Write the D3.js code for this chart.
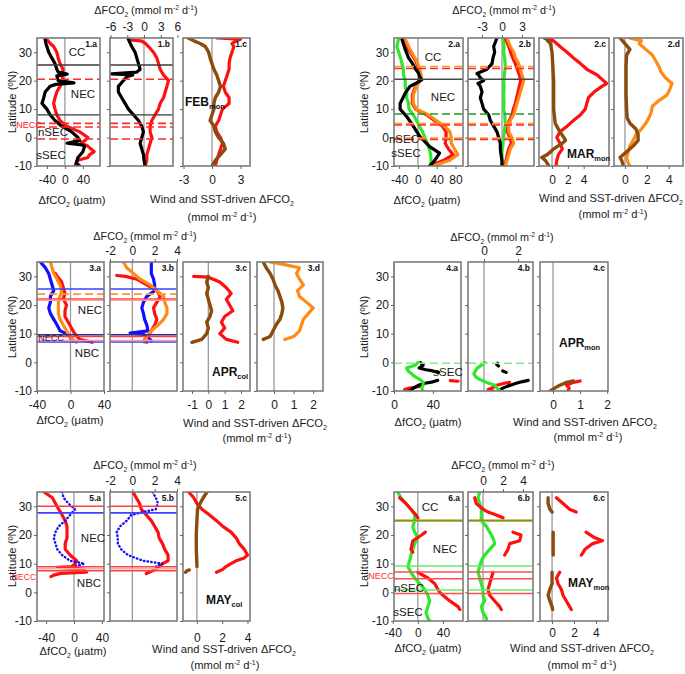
<!DOCTYPE html>
<html><head><meta charset="utf-8">
<script src="https://cdn.jsdelivr.net/npm/d3@7"></script>
<style>body{margin:0;background:#fff}svg{font-family:"Liberation Sans",Arial,sans-serif;display:block}</style>
</head><body><svg id="c" width="685" height="674"></svg>
<script>
// ---------------- DATA (latitude, value) ----------------
const latTicks=[30,20,10,0,-10];
// Group 1 (FEB mon)
const p1a_black=[[34.5,-44],[33,-42],[32,-40],[30,-36],[28,-29],[26,-22],[24,-18],[23,-15],[22.3,5],[21.7,-18],[20,-15],[19.2,20],[18.7,-20],[18,-33],[16,-44],[14,-47],[12,-51],[10,-40],[8,-33],[6,-22],[4,-7],[2,15],[0,29],[-1,33],[-2,5],[-2.6,38],[-3,44],[-5,40],[-7,29],[-9,25],[-10,33]];
const p1a_red=[[34.5,-40],[33,-32],[32,-25],[30,-18],[28,-15],[26,-11],[24,-4],[22,-7],[20,-4],[18,-11],[16,-18],[14,-22],[12,-25],[10,-22],[8,-18],[6,-11],[4,4],[2,33],[0,51],[-1,45],[-2,36],[-3,51],[-5,65],[-6,55],[-7,51],[-8,29],[-10,22]];
const p1b_black=[[34.5,-2.8],[32,-2.2],[30,-1.6],[28,-1.3],[26,-1.0],[24,-0.7],[23,-1.3],[22.4,-5.8],[22,-2.0],[21.5,-3.0],[20,-3.7],[18,-4.6],[16,-4.6],[14,-4.0],[12,-3.4],[10,-2.8],[8,-1.9],[6,-1.0],[4,-0.4],[2,-0.1],[0,-0.4],[-2,-0.7],[-4,-0.4],[-6,-0.1],[-8,0],[-10,0.2]];
const p1b_red=[[34.3,-2.6],[34,-0.5],[33,0.3],[32,0.8],[30,1.7],[28,2.3],[26,2.6],[24,2.9],[22,3.5],[20,4.4],[18,4.1],[16,3.8],[14,3.5],[12,2.9],[10,2.6],[8,2.0],[6,1.4],[4,1.1],[2,1.1],[0,1.4],[-2,1.1],[-4,0.8],[-6,0.5],[-8,0.5],[-10,0.2]];
const p1c_brown=[[35,-2.5],[34,-1.9],[33,-1.2],[32,-0.7],[30,-0.35],[28,-0.2],[26,0],[24,0.2],[22,0.5],[20,0.7],[18,0.9],[16,0.7],[14,0.35],[12,0.2],[10,0.2],[8,0],[6,-0.2],[4,0.2],[2,0.35],[0,0.7],[-2,1.2],[-4,1.4],[-6,0.9],[-8,0.35],[-10,0]];
const p1c_red=[[35,0.5],[34.6,3.0],[34,2.5],[33,2.1],[32,2.3],[30,2.1],[28,1.9],[26,1.8],[24,1.8],[22,1.6],[20,1.4],[18,1.2],[16,1.4],[14,1.8],[12,1.8],[10,1.1],[8,0.9],[6,0.7],[4,0.35],[2,0.5],[0,0.9],[-2,1.1],[-4,0.9],[-6,0.7],[-8,0.5],[-10,0.35]];
// Group 2 (MAR mon)
const p2a_green=[[35,-41],[32,-45],[30,-41],[28,-37],[26,-34],[24,-31],[22,-31],[20,-27],[18,-27],[16,-24],[14,-24],[12,-20],[10,-19],[8,-10],[6,-3],[4,3],[2,10],[0,15],[-2,20],[-4,24],[-6,27],[-8,28],[-10,26]];
const p2a_red=[[34.5,-30],[31,-20],[27,-5],[24,2],[21,5],[18,-5],[15,-12],[12,-12],[10,-5],[8,18],[6,35],[4,52],[2,60],[0,60],[-2,58],[-4,65],[-6,75],[-8,55],[-10,25]];
const p2a_orange=[[34.5,-27],[31,-17],[27,-3],[24,4],[21,8],[18,-3],[15,-10],[12,-10],[10,-3],[8,22],[6,39],[4,57],[2,68],[0,71],[-2,71],[-4,78],[-6,85],[-8,68],[-10,32]];
const p2a_black=[[34.5,-34],[31,-27],[28,-20],[26.4,-13],[24,-5],[23,0],[21,5],[20.3,8],[19,-5],[18,-17],[15.6,-27],[12,-38],[10,-38],[7.4,-24],[4,-10],[0.4,4],[-3.2,25],[-5.5,46],[-8,36],[-10,25]];
const p2b_green=[[35,0.25],[32,0.3],[30,0.25],[28,0.4],[25,0.5],[22,0.35],[20,0.25],[18,0.3],[15,0.25],[12,0.3],[10,0.25],[8,0.4],[5,0.5],[2,0.35],[0,0.25],[-3,0.1],[-5,0],[-8,0],[-10,0]];
const p2b_red=[[35,0.5],[32,1.0],[30,1.3],[28,1.6],[26,2.0],[24,2.3],[22,2.6],[20,2.8],[18,2.6],[16,2.4],[14,2.2],[12,2.0],[10,1.7],[8,1.5],[6,1.1],[4,0.9],[2,0.8],[0,1.2],[-2,1.4],[-4,1.0],[-6,0.8],[-8,0.6],[-10,0.4]];
const p2b_orange=[[35,0.75],[32,1.25],[30,1.75],[28,2],[26,2.5],[24,2.75],[22,3],[20,3.25],[18,3],[16,2.75],[14,2.5],[12,2.25],[10,2],[8,1.75],[6,1.25],[4,1],[2,1],[0,1.5],[-2,1.75],[-4,1.25],[-6,1],[-8,0.75],[-10,0.5]];
const p2b_black=[[35,-0.75],[32,-1.25],[30,-1.1],[28,-1.35],[26,-1.5],[24,-2.25],[22.5,-3.75],[22,-3.5],[21,-3.25],[20,-2.75],[19,-3.6],[18,-3.25],[16,-3.0],[14,-3.25],[12,-3.0],[10,-2.75],[8,-2.0],[6,-1.75],[4,-1.25],[2,-0.75],[0,-0.5],[-2,-0.25],[-4,-0.25],[-6,-0.15],[-8,0],[-10,0]];
const p2c_brown=[[35,-0.85],[33,-0.2],[30,0],[25,0.1],[20,0.2],[15,0.2],[10,0.2],[5,0.4],[2,1.0],[0,1.5],[-1,1.7],[-2,1.3],[-4,0.2],[-6,-0.6],[-7,-1.3],[-8,-0.85],[-10,-0.4]];
const p2c_red=[[35,-1],[34,0.2],[32,1],[30,1.9],[28,2.7],[26,3.6],[24,4.4],[22,5.7],[20,6.5],[19,6.9],[18,6.3],[16,5.3],[14,4.6],[12,4.4],[10,4.2],[8,3.6],[6,2.7],[4,1.9],[2,1],[0,0.6],[-2,1],[-4,1.3],[-6,0.8],[-8,0.6],[-10,0.5]];
const p2d_brown=[[35,-0.45],[33,0],[31,0.45],[29,0.15],[25,0.1],[20,0.1],[15,0.1],[10,0.15],[7,0.2],[5,0.45],[3,1.0],[1,1.2],[-1,1.2],[-3,0.75],[-5,0.15],[-7,-0.45],[-8,-0.3],[-10,-0.15]];
const p2d_orange=[[35,0.45],[34,1.5],[33,1.3],[31,1.9],[29,2.5],[27,2.8],[25,3.1],[23,3.3],[21,3.7],[19,4.3],[17,4.1],[15,3.85],[13,3.1],[11,2.5],[9,2.4],[7,2.2],[5,1.9],[3,1.5],[1,1.0],[-1,0.75],[-3,0.45],[-5,0.3],[-7,0.15],[-9,0.3],[-10,0.45]];
// Group 3 (APR col)
const p3a_blue=[[35,-36],[33,-30],[31,-26],[29,-24],[27,-22],[25,-20],[23,-24],[21,-24],[19,-26],[17,-24],[15,-20],[13,-16],[11,-12.5],[10,-5],[9,-1],[8,1],[7.5,3]];
const p3a_red=[[31,-18],[30,-16],[28,-10.5],[26,-8.6],[24,-6.6],[22,-8.6],[20,-4.7],[18,-6.6],[16,-6.6],[14,-2.7],[12,1.2],[10,5],[8,11],[7,26]];
const p3a_orange=[[35,-24],[33,-22],[31,-20],[29,-16],[27,-12.5],[25,-10.5],[23,-12.5],[21,-14.5],[19,-14.5],[17,-14.5],[15,-12.5],[13,-8.6],[11,-4.7],[9,-1],[8,3],[7,7]];
const p3b_blue=[[35,1.7],[33,1.7],[31,1.7],[29,1.9],[27,2.0],[25,2.0],[23,1.3],[21,1.0],[19,0.85],[17,1.0],[15,1.1],[13,1.3],[11,1.4],[10.2,-0.2],[9.8,1.0],[9,1.3],[8,1.6],[7.5,1.7]];
const p3b_red=[[30.3,-1.4],[30,-0.6],[29,0.4],[27,1.3],[25,2.2],[23,2.5],[21,2.2],[19,1.9],[17,2.0],[15,2.2],[13,2.0],[11,1.7],[9,1.4],[8,1.1],[7,1.3]];
const p3b_orange=[[35,-0.8],[33,-0.5],[31,0.1],[29,0.7],[27,1.6],[25,2.2],[23,2.8],[21,2.9],[19,3.1],[17,3.1],[15,2.8],[13,2.3],[11,1.7],[9,1.3],[7,1.1]];
const p3c_brown=[[30,0],[28,-0.1],[26,0],[24,-0.1],[22,0],[20,0.1],[18,0.2],[16,0.1],[14,-0.1],[12,0],[10,-0.1],[8,-0.4],[7,-1.0]];
const p3c_red=[[30,-0.9],[29.7,0],[29,0.3],[28,0.7],[26,1.1],[24,1.4],[22,1.1],[20,1.3],[18,1.5],[16,1.0],[14,0.8],[12,1.0],[10,0.7],[8,1.1],[7,1.8]];
const p3d_brown=[[35,-0.55],[33,-0.4],[31,-0.2],[29,-0.05],[27,0.05],[25,0.2],[23,0.3],[21,0.4],[19,0.45],[17,0.4],[15,0.3],[13,0.1],[11,-0.05],[9,-0.2],[8,-0.55]];
const p3d_orange=[[35,-0.2],[34,0.6],[33,1.3],[31,1.15],[29,1.3],[27,1.5],[25,1.2],[23,1.3],[21,1.65],[19,2.0],[17,1.75],[15,1.5],[13,1.4],[11,1.3],[9,1.0],[8,0.55]];
// Group 4 (APR mon)
const p4a_green=[[0,25],[-1,21.6],[-2,13],[-3,14.6],[-4,18],[-5,21.6],[-6,27],[-7,30],[-8,30],[-9,28.5],[-10,30]];
const p4a_black=[[0,27],[-1,30],[-2,26],[-2.6,33],[-3,40],[-3.5,46],[-4,null],[-6.3,45],[-6.8,40],[-7.3,32],[-8,25],[-9,20],[-10,16]];
const p4a_red=[[-6.4,58],[-6.6,66],[-7,null],[-8.3,28],[-8.7,22],[-9,16],[-9.5,11],[-10,14]];
const p4b_green=[[0,0.05],[-1,-0.15],[-2,-0.4],[-4,-0.6],[-5,-0.5],[-6,-0.25],[-7,0.15],[-8,0.65],[-9,0.75],[-10,0.95]];
const p4b_black=[[-0.3,0.8],[-0.8,0.75],[-1.3,0.85],[-1.8,null],[-3,1.1],[-3.5,1.3],[-4,null],[-6.3,2.6],[-6.8,2.2],[-7.5,1.8],[-8.3,1.4],[-9,1.1],[-10,0.85]];
const p4b_red=[[-7,1.5],[-7.3,1.2],[-8,0.75],[-9,0.45],[-9.5,0.25],[-10,0.55]];
const p4c_brown=[[-6.5,0.75],[-7,0.5],[-8,0.25],[-9,0.06],[-10,-0.1]];
const p4c_red=[[-6.5,1.0],[-7,0.75],[-8,0.5],[-9,0.6],[-10,0.55]];
// Group 5 (MAY col)
const p5a_blue=[[35,-17],[33,-15],[31,-8],[29,1.4],[27,-5.6],[25,-12.6],[23,-22],[21,-26.5],[19,-29],[17,-26.5],[15,-24],[13,-17],[11,-5.6],[10,15],[9,-1]];
const p5a_red=[[35,-43],[33,-31],[31,-26.5],[29,-22],[27,-17],[25,-12.6],[23,-10],[21,-10],[19,-10],[17,-12.6],[15,-12.6],[13,-5.6],[11,3.7],[10,1.4],[9,-3],[8.7,-24],[8.3,5],[8,13],[7,17.7],[6.6,-19],[6,-29],[5.5,-33]];
const p5b_blue=[[35,1.8],[33,2.1],[31,2.3],[29,2.1],[28,0.95],[27,-0.1],[25,-0.5],[23,-1.1],[21,-1.4],[19,-1.3],[17,-1.3],[15,-1.0],[13,-0.4],[11,0.95],[10,2.7],[9,2.1]];
const p5b_red=[[35,0.05],[33,0.35],[31,0.65],[29,0.8],[27,1.25],[25,1.7],[23,2.0],[21,2.3],[19,2.4],[17,2.7],[15,2.9],[13,3.2],[11,3.2],[10,2.7],[9,2.4],[8,2.1],[7,1.5],[6.5,1.25]];
const p5c_brown=[[35,0.8],[33,0.5],[31,0.25],[29,0.05],[25,0],[20,-0.05],[15,-0.05],[10,0],[9,0],[8.5,null],[7.8,-0.6],[7.5,-0.8],[7,-0.9]];
const p5c_red=[[35,-0.65],[33,-0.25],[31,0],[29,0.4],[27,1.0],[25,1.55],[23,2.05],[21,2.7],[19,3.1],[17,3.35],[15,3.75],[13,4.0],[12,3.75],[11,3.1],[10,2.7],[9,2.3],[8,2.05],[7,1.55]];
// Group 6 (MAY mon)
const p6a_green=[[35,-32],[33,-27],[31,-19],[29,-11],[27,-5],[25,-5],[23,-8],[21,-5],[19,0],[17,-5],[15,-8],[13,-11],[11,-13],[9,-16],[7,-11],[5,-5],[3,3],[1,11],[-1,16],[-3,19],[-5,16],[-7,13],[-9,16],[-10,19]];
const p6a_red=[[33,-29],[31,-19],[29,-11],[27,-3],[26,0],[25.5,null],[21,12],[20,6],[18,-8],[15,-11],[14,-8],[13.5,null],[7,0],[5,16],[3,27],[1,32],[0,35],[-1,40],[-3,51],[-5,64],[-6,67]];
const p6b_green=[[35,-0.33],[33,-0.5],[31,-0.33],[29,-0.17],[27,-0.17],[25,-0.17],[23,0.33],[21,0.67],[19,1.0],[17,1.17],[15,0.67],[13,0.17],[11,-0.17],[9,-0.33],[7,-0.5],[5,-0.33],[3,-0.17],[1,0],[-1,0],[-3,0.17],[-5,-0.17],[-7,0],[-9,0.33],[-10,0.33]];
const p6b_red=[[33,-0.83],[31,-0.67],[29,0],[28,0.5],[27,1.33],[26,2.0],[25.5,null],[21,3.0],[20,3.8],[18,3.67],[17,2.67],[15,2.5],[13,2.17],[12.5,null],[7,1.0],[5,0.83],[3,0.67],[1,0.5],[-1,0.67],[-3,1.17],[-5,1.67],[-6,1.83]];
const p6c_brown=[[33,-0.36],[31,-0.36],[29,-0.2],[28,0],[27.5,null],[21,0.1],[19,0.1],[17,0.1],[15,0.1],[13,0.1],[12.5,null],[7,0],[5,0],[3,0],[1,-0.2],[-1,-0.36],[-3,-0.2],[-5,0],[-6,0.05]];
const p6c_red=[[33,0.4],[31,1.0],[29,1.6],[28,2.2],[27.5,null],[21,3.1],[19,3.9],[18,4.6],[17,3.7],[15,3.0],[13,2.67],[12.5,null],[7,0.7],[5,0.4],[3,0.55],[1,0.85],[-1,1.0],[-3,1.3],[-5,1.6],[-6,1.75]];

// tick label arrays
const t1a=[-40,0,40], t1b=[-6,-3,0,3,6], t1c=[-3,0,3];
const t2a=[-40,0,40,80], t2b=[-3,0,3], t2c=[0,2,4], t2d=[0,2,4];
const t3a=[-40,0,40], t3b=[-2,0,2,4], t3c=[-1,0,1,2], t3d=[0,1,2];
const t4a=[0,40], t4b=[0,2], t4c=[0,1,2];
const t5a=[-40,0,40], t5b=[-2,0,2,4], t5c=[0,2,4];
const t6a=[-40,0,40], t6b=[0,2,4], t6c=[0,2,4];

// current boundary latitudes
const g1_gray=[25.5,8.0], g1_redDash=[20.5,5.0,3.7,-0.5];
const g2_orangeDash=[25.0,4.9,-0.2], g2_redDash=[24.3,4.4,-0.7], g2_gray=[20.5], g2_greenDash=[8.3];
const g3_blue=[25.6,7.1], g3_orangeDash=[23.8], g3_red=[22.1,9.0], g3_pink=[21.7,7.6], g3_navy=[9.6];
const g4_greenDash=[-0.3];
const g5_red=[30.0,8.9,7.5], g5_pink=[8.2], g5_blue=[27.7];
const g6_olive=[25.1], g6_green=[24.8,9.2,0.8], g6_red=[7.1,4.7,-0.4];

// ---------------- DRAWING ----------------
const COL={red:'#ff1010',black:'#000000',orange:'#ff8a14',green:'#2ee82e',blue:'#1010ff',brown:'#8a4b0c'};
const svg=d3.select('#c');
svg.append('rect').attr('width',685).attr('height',674).attr('fill','#fff');
const rowsY={1:[38,166],2:[262,391],3:[492,621]};
const FONT=12, TXT=11.2, TITLE=10.8;

function rich(g,x,y,parts,size,anchor,weight,fill){
  const t=g.append('text').attr('x',x).attr('y',y).attr('text-anchor',anchor||'middle')
    .attr('font-size',size).attr('font-weight',weight||'normal').attr('fill',fill||'#1a1a1a');
  let cur=0;
  parts.forEach(p=>{
    const s=typeof p==='string'?p:p[0], k=typeof p==='string'?0:p[1];
    const target=k===1?-0.4*size:(k===-1?0.3*size:0);
    const ts=t.append('tspan').text(s).attr('font-size',k===0?size:size*0.62);
    if(target!==cur){ts.attr('dy',target-cur);cur=target;}
  });
  return t;
}
const titleParts=['\u0394FCO',['2',-1],' (mmol m',['-2',1],' d',['-1',1],')'];
const fco2Parts=['\u0394fCO',['2',-1],' (\u03bcatm)'];
const windParts=['Wind and SST-driven \u0394FCO',['2',-1]];
const unitParts=['(mmol m',['-2',1],' d',['-1',1],')'];

const groups=[
 {row:1, title:[146,14], fco2:[72,204], wind:[222,203], unit:[222,221], yLab:[12,102], tickPad:6,
  panels:[
   {n:'1.a',x:[37,100],d:[-62,78],bot:t1a,s:[['red',p1a_red],['black',p1a_black]]},
   {n:'1.b',x:[110,173],d:[-6.1,5.2],top:t1b,s:[['red',p1b_red],['black',p1b_black]]},
   {n:'1.c',x:[183,250],d:[-3.05,4.0],bot:t1c,s:[['red',p1c_red],['brown',p1c_brown]]}],
  hl:[[g1_gray,'#3a3a3a',null,1.3],[g1_redDash,'#ff2a2a','8,4',1.6]],
  labels:[['CC',77,52],['NEC',83,94],['nSEC',53,132],['sSEC',51,155],['NECC',29,125,'#ff2020',9]],
  month:['FEB','mon',185,102]},
 {row:1, title:[504,14], fco2:[427,204], wind:[611,202], unit:[613,218], yLab:[364,102], tickPad:6,
  panels:[
   {n:'2.a',x:[394,463],d:[-51,96],bot:t2a,s:[['green',p2a_green],['red',p2a_red],['orange',p2a_orange],['black',p2a_black]]},
   {n:'2.b',x:[468,534],d:[-5.1,4.8],top:t2b,s:[['green',p2b_green],['red',p2b_red],['orange',p2b_orange],['black',p2b_black]]},
   {n:'2.c',x:[539,609],d:[-1.65,7.2],bot:t2c,s:[['red',p2c_red],['brown',p2c_brown]]},
   {n:'2.d',x:[614,683],d:[-1.0,5.3],bot:t2d,s:[['orange',p2d_orange],['brown',p2d_brown]]}],
  hl:[[g2_gray,'#4a4a4a',null,1.3],[g2_greenDash,'#1f9a1f','8,4',1.6],[g2_orangeDash,'#ff9a2a','8,4',1.6],[g2_redDash,'#ff2a2a','8,4',1.6]],
  labels:[['CC',433,57],['NEC',443,97],['nSEC',404,139],['sSEC',406,153]],
  month:['MAR','mon',567,154]},
 {row:2, title:[145,240], fco2:[70,424], wind:[255,427], unit:[257,442], yLab:[12,327], tickPad:6,
  panels:[
   {n:'3.a',x:[37,104],d:[-40,40],bot:t3a,s:[['blue',p3a_blue],['red',p3a_red],['orange',p3a_orange]]},
   {n:'3.b',x:[110,177],d:[-2,4],top:t3b,s:[['blue',p3b_blue],['red',p3b_red],['orange',p3b_orange]]},
   {n:'3.c',x:[183,250],d:[-1.55,2.55],bot:t3c,s:[['red',p3c_red],['brown',p3c_brown]]},
   {n:'3.d',x:[257,323],d:[-0.87,2.5],bot:t3d,s:[['orange',p3d_orange],['brown',p3d_brown]]}],
  hl:[[g3_blue,'#3c3cff',null,1.5],[g3_orangeDash,'#ff9a2a','8,4',1.6],[g3_red,'#ff3c3c',null,1.5],[g3_pink,'#ff9a9a',null,1.5],[g3_navy,'#402a8a',null,1.5]],
  labels:[['NEC',90,310],['NECC',51,338,'#1a1a55',9],['NBC',87,353]],
  month:['APR','col',212,372]},
 {row:2, title:[502,241], fco2:[428,426], wind:[585,426], unit:[588,441], yLab:[364,327], tickPad:6,
  panels:[
   {n:'4.a',x:[394,461],d:[0,69],bot:t4a,s:[['red',p4a_red],['black',p4a_black],['green',p4a_green]]},
   {n:'4.b',x:[468,533],d:[-0.94,2.88],top:t4b,s:[['red',p4b_red],['black',p4b_black],['green',p4b_green]]},
   {n:'4.c',x:[540,608],d:[-0.48,2.03],bot:t4c,s:[['red',p4c_red],['brown',p4c_brown]]}],
  hl:[[g4_greenDash,'#8ae88a','8,4',1.6]],
  labels:[['sSEC',448,372]],
  month:['APR','mon',559,343]},
 {row:3, title:[145,469], fco2:[73,655], wind:[224,653], unit:[225,669], yLab:[12,556], tickPad:9,
  panels:[
   {n:'5.a',x:[37,104],d:[-53,43],bot:t5a,s:[['red',p5a_red],['blueDot',p5a_blue]]},
   {n:'5.b',x:[110,177],d:[-2,4],top:t5b,s:[['red',p5b_red],['blueDot',p5b_blue]]},
   {n:'5.c',x:[183,250],d:[-1.1,4.2],bot:t5c,s:[['red',p5c_red],['brown',p5c_brown]]}],
  hl:[[g5_red,'#ff4040',null,1.5],[g5_pink,'#ffaaaa',null,1.5],[g5_blue,'#4040ff',null,1.8]],
  labels:[['NEC',93,538],['NECC',24,577,'#ff3030',8.5],['NBC',89,583]],
  month:['MAY','col',206,600]},
 {row:3, title:[503,469], fco2:[428,652], wind:[582,652], unit:[582,669], yLab:[364,556], tickPad:4,
  panels:[
   {n:'6.a',x:[394,463],d:[-38,72],bot:t6a,s:[['green',p6a_green],['red',p6a_red]]},
   {n:'6.b',x:[468,533],d:[-1.5,5.0],top:t6b,s:[['green',p6b_green],['red',p6b_red]]},
   {n:'6.c',x:[540,608],d:[-1.1,5.1],bot:t6c,s:[['red',p6c_red],['brown',p6c_brown]]}],
  hl:[[g6_green,'#6ae86a',null,1.5],[g6_olive,'#b08010',null,1.8],[g6_red,'#ff5050',null,1.5]],
  labels:[['CC',430,507],['NEC',445,549],['NECC',381,576,'#ff3030',9],['nSEC',409,588],['sSEC',408,612]],
  month:['MAY','mon',568,583]}
];

let clipN=0;
groups.forEach(G=>{
  const [yt,yb]=rowsY[G.row];
  const y=d3.scaleLinear().domain([35,-10]).range([yt,yb]);
  const gG=svg.append('g');
  G.panels.forEach((P,i)=>{
    const x=d3.scaleLinear().domain(P.d).range(P.x);
    P.scale=x;
    const g=gG.append('g');
    const cid='clip'+(clipN++);
    svg.append('clipPath').attr('id',cid).append('rect').attr('x',P.x[0]).attr('y',yt).attr('width',P.x[1]-P.x[0]).attr('height',yb-yt);
    g.append('line').attr('x1',x(0)).attr('x2',x(0)).attr('y1',yt).attr('y2',yb).attr('stroke','#9a9a9a').attr('stroke-width',1.3);
    const dg=g.append('g').attr('clip-path','url(#'+cid+')');
    P.s.forEach(([c,arr])=>{
      const line=d3.line().defined(d=>d[1]!==null).x(d=>x(d[1])).y(d=>y(d[0]));
      const path=dg.append('path').datum(arr).attr('d',line).attr('fill','none').attr('stroke-linejoin','round').attr('stroke-linecap','round');
      if(c==='blueDot'){path.attr('stroke',COL.blue).attr('stroke-width',2.4).attr('stroke-dasharray','0.5,3.2');}
      else {path.attr('stroke',COL[c]).attr('stroke-width',c==='brown'?3.4:3.2);}
    });
  });
  G.hl.forEach(([lats,col,dash,w])=>{
    lats.forEach(lat=>{
      [G.panels[0],G.panels[1]].forEach(P=>{
        const l=gG.append('line').attr('x1',P.x[0]).attr('x2',P.x[1]).attr('y1',y(lat)).attr('y2',y(lat))
          .attr('stroke',col).attr('stroke-width',w);
        if(dash) l.attr('stroke-dasharray',dash);
      });
    });
  });
  G.panels.forEach((P,i)=>{
    const x=P.scale;
    const g=gG.append('g');
    g.append('rect').attr('x',P.x[0]).attr('y',yt).attr('width',P.x[1]-P.x[0]).attr('height',yb-yt)
      .attr('fill','none').attr('stroke','#7c7c7c').attr('stroke-width',1.6);
    const ya=d3.axisLeft(y).tickValues(latTicks).tickSize(3).tickPadding(2);
    const ag=g.append('g').attr('transform','translate('+P.x[0]+',0)').call(ya);
    ag.select('.domain').remove();
    ag.selectAll('line').attr('stroke','#666');
    ag.selectAll('text').attr('font-size',FONT).attr('fill','#1a1a1a').text(d=>i===0?(d<0?'-'+Math.abs(d):d):'');
    if(P.bot){
      const xa=d3.axisBottom(x).tickValues(P.bot).tickSize(3).tickPadding(G.tickPad);
      const bg=g.append('g').attr('transform','translate(0,'+yb+')').call(xa);
      bg.select('.domain').remove();
      bg.selectAll('line').attr('stroke','#666');
      bg.selectAll('text').attr('font-size',FONT).attr('fill','#1a1a1a').text(d=>d<0?'-'+Math.abs(d):d);
    }
    if(P.top){
      const xt=d3.axisTop(x).tickValues(P.top).tickSize(3).tickPadding(4);
      const tg=g.append('g').attr('transform','translate(0,'+yt+')').call(xt);
      tg.select('.domain').remove();
      tg.selectAll('line').attr('stroke','#666');
      tg.selectAll('text').attr('font-size',FONT).attr('fill','#1a1a1a').text(d=>d<0?'-'+Math.abs(d):d);
    }
    g.append('text').attr('x',P.x[1]-3).attr('y',yt+9).attr('text-anchor','end').attr('font-size',8.5)
      .attr('font-weight','bold').attr('fill','#111').text(P.n);
  });
  G.labels.forEach(([t,lx,ly,col,fs])=>{
    gG.append('text').attr('x',lx).attr('y',ly).attr('dy','0.35em').attr('text-anchor','middle')
      .attr('font-size',fs||11.5).attr('fill',col||'#1a1a1a').text(t);
  });
  const [m,sub,mx,my]=G.month;
  const mt=gG.append('text').attr('x',mx).attr('y',my).attr('dy','0.35em').attr('font-weight','bold').attr('font-size',12).attr('fill','#111');
  mt.append('tspan').text(m);
  mt.append('tspan').text(sub).attr('font-size',7.5).attr('dy',3);
  rich(gG,G.title[0],G.title[1],titleParts,TITLE,'middle');
  rich(gG,G.fco2[0],G.fco2[1],fco2Parts,TXT,'middle');
  rich(gG,G.wind[0],G.wind[1],windParts,TXT,'middle');
  rich(gG,G.unit[0],G.unit[1],unitParts,TXT,'middle');
  gG.append('text').attr('transform','translate('+G.yLab[0]+','+G.yLab[1]+') rotate(-90)')
    .attr('text-anchor','middle').attr('dy','0.35em').attr('font-size',TXT).attr('fill','#1a1a1a').text('Latitude (\u00baN)');
});
</script></body></html>
